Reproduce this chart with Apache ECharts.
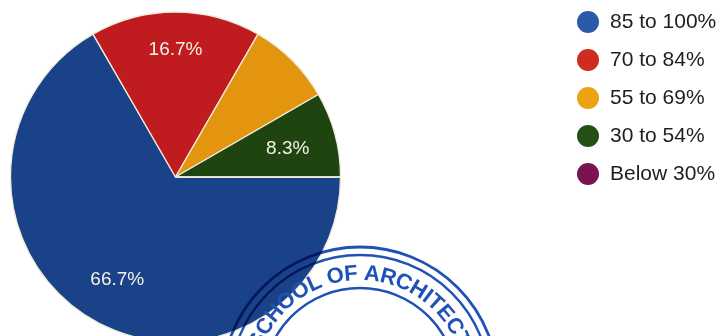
<!DOCTYPE html>
<html>
<head>
<meta charset="utf-8">
<script src="https://cdn.jsdelivr.net/npm/echarts@6/dist/echarts.min.js"></script>
<style>
  html, body { margin: 0; padding: 0; background: #ffffff; }
  #chart { width: 723px; height: 336px; }
</style>
</head>
<body>
<div id="chart"></div>
<script>
// Score bands and how many results fall in each
const categories = ['85 to 100%', '70 to 84%', '55 to 69%', '30 to 54%', 'Below 30%'];
const counts = [8, 2, 1, 1, 0];
const sliceColors = ['#1a4288', '#c01b1f', '#e39510', '#1f4410', '#6e1048'];
const legendColors = ['#2a5aaa', '#d02a22', '#eca312', '#245016', '#7a1350'];
// bands whose slice carries no percentage label
const hiddenLabels = ['55 to 69%', 'Below 30%'];

const FONT = '"Liberation Sans", Arial, sans-serif';
const CX = 175.5, CY = 177, R = 165;

// small nudges so each percentage sits where the text box fits its slice
const labelNudge = [[4, -5], [0, -3], [0, 0], [-8, 4], [0, 0]];

const pieData = categories.map((name, i) => ({
  name: name,
  value: counts[i],
  itemStyle: { color: sliceColors[i] }
}));

const labelData = categories.map((name, i) => ({
  name: name,
  value: counts[i],
  label: { show: hiddenLabels.indexOf(name) < 0 }
}));

// Seal stamped over the lower part of the page
const stampCenter = [360, 385];
const stampText = 'SCHOOL OF ARCHITECTURE';
const stampInk = '#1f52b4';
function stampElements() {
  const els = [];
  [[138, 2.8], [130, 2.4], [97, 2.4]].forEach(([r, w]) => {
    els.push({
      type: 'circle', z: 100, silent: true,
      shape: { cx: stampCenter[0], cy: stampCenter[1], r: r },
      style: { fill: 'none', stroke: stampInk, lineWidth: w, blend: 'multiply' }
    });
  });
  const ctx = document.createElement('canvas').getContext('2d');
  const fontSize = 22;
  const font = '600 ' + fontSize + 'px ' + FONT;
  ctx.font = font;
  const chars = stampText.split('');
  // cumulative centre position of every glyph along the baseline arc
  const centres = [];
  let run = 0;
  chars.forEach(ch => {
    const w = ctx.measureText(ch).width;
    centres.push(run + w / 2);
    run += w;
  });
  // first "S" and the "C" of ARCHITECTURE fix the angular extent
  const a0 = -66.5, a1 = 58, lastIdx = 17;
  const scale = (a1 - a0) / (centres[lastIdx] - centres[0]);
  const textR = 111;
  chars.forEach((ch, i) => {
    if (ch === ' ') return;
    const a = (a0 + (centres[i] - centres[0]) * scale) * Math.PI / 180;
    els.push({
      type: 'text', z: 101, silent: true,
      x: stampCenter[0] + textR * Math.sin(a),
      y: stampCenter[1] - textR * Math.cos(a),
      rotation: -a,
      style: {
        text: ch, fill: stampInk, blend: 'multiply',
        font: font,
        align: 'center', verticalAlign: 'middle'
      }
    });
  });
  return els;
}

const chart = echarts.init(document.getElementById('chart'), null, { renderer: 'canvas' });
chart.setOption({
  animation: false,
  backgroundColor: '#ffffff',
  legend: {
    orient: 'vertical',
    left: 577,
    top: 11,
    padding: 0,
    itemWidth: 22,
    itemHeight: 22,
    itemGap: 16,
    icon: 'circle',
    selectedMode: false,
    itemStyle: { borderWidth: 0 },
    textStyle: { fontFamily: FONT, fontSize: 21, lineHeight: 22, color: '#1e1e1e', padding: [0, 0, 0, 6] },
    data: categories.map((name, i) => ({ name: name, itemStyle: { color: legendColors[i], borderWidth: 0 } }))
  },
  series: [
    {
      type: 'pie',
      center: [CX, CY],
      radius: [0, R],
      startAngle: 0,
      clockwise: true,
      stillShowZeroSum: false,
      avoidLabelOverlap: false,
      label: { show: false },
      labelLine: { show: false },
      emphasis: { disabled: true },
      itemStyle: { borderColor: '#efecdc', borderWidth: 1.3 },
      data: pieData
    },
    {
      // transparent ring that only places the percentage labels
      type: 'pie',
      center: [CX, CY],
      radius: [78, R],
      startAngle: 0,
      clockwise: true,
      silent: true,
      legendHoverLink: false,
      avoidLabelOverlap: false,
      itemStyle: { color: 'transparent', borderWidth: 0 },
      emphasis: { disabled: true },
      label: {
        show: true,
        position: 'inside',
        formatter: p => p.percent.toFixed(1) + '%',
        fontFamily: FONT,
        fontSize: 19,
        color: '#f3f1e4'
      },
      labelLine: { show: false },
      labelLayout: p => ({ dx: labelNudge[p.dataIndex][0], dy: labelNudge[p.dataIndex][1] }),
      data: labelData
    }
  ],
  graphic: stampElements()
});
</script>
</body>
</html>
